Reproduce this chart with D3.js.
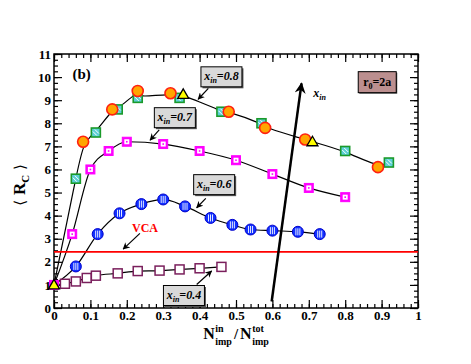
<!DOCTYPE html>
<html>
<head>
<meta charset="utf-8">
<script src="https://cdn.jsdelivr.net/npm/d3@7"></script>
<style>
  body { margin: 0; background: #fff; }
  svg { display: block; }
  text { font-family: "Liberation Serif", "Times New Roman", serif; }
</style>
</head>
<body>
<div id="chart"></div>
<script>
// ---- data ----
const origin = [0, 1.0];

// x_in = 0.8 (three runs)
const x80Circles = [[0.08, 7.2], [0.16, 8.6], [0.23, 9.4], [0.32, 9.3], [0.48, 8.5], [0.58, 7.8], [0.69, 7.3], [0.89, 6.1]];
const x80Squares = [[0.06, 5.6], [0.115, 7.6], [0.175, 8.6], [0.23, 9.1], [0.345, 9.1], [0.46, 8.5], [0.57, 8.0], [0.80, 6.8], [0.92, 6.3]];
const x80Triangles = [[0, 1.0], [0.355, 9.25], [0.71, 7.2]];

// x_in = 0.7
const x70 = [[0, 1.0], [0.05, 3.2], [0.10, 6.0], [0.15, 6.8], [0.20, 7.2], [0.30, 7.1], [0.40, 6.8], [0.50, 6.4], [0.60, 5.8], [0.70, 5.2], [0.80, 4.8]];

// x_in = 0.6
const x60 = [[0.06, 1.8], [0.12, 3.2], [0.18, 4.1], [0.24, 4.5], [0.30, 4.7], [0.36, 4.4], [0.43, 3.9], [0.49, 3.6], [0.54, 3.4], [0.60, 3.35], [0.67, 3.3], [0.73, 3.2]];

// x_in = 0.4
const x40 = [[0.03, 1.05], [0.06, 1.15], [0.09, 1.3], [0.115, 1.4], [0.175, 1.5], [0.23, 1.6], [0.29, 1.62], [0.345, 1.67], [0.40, 1.72], [0.46, 1.78]];

// VCA value
const vcaValue = 2.43;

const xTicks = [0, 0.1, 0.2, 0.3, 0.4, 0.5, 0.6, 0.7, 0.8, 0.9, 1];
const xTickLabels = ["0", "0.1", "0.2", "0.3", "0.4", "0.5", "0.6", "0.7", "0.8", "0.9", "1"];
const yTicks = [0, 1, 2, 3, 4, 5, 6, 7, 8, 9, 10, 11];

// ---- layout ----
const width = 471, height = 364;
const plotL = 54, plotR = 418, plotT = 54, plotB = 308;

const svg = d3.select("#chart").append("svg")
    .attr("width", width)
    .attr("height", height);

const x = d3.scaleLinear().domain([0, 1]).range([plotL, plotR]);
const y = d3.scaleLinear().domain([0, 11]).range([plotB, plotT]);

// arrow heads
const defs = svg.append("defs");
defs.append("marker")
    .attr("id", "head")
    .attr("viewBox", "0 0 10 10")
    .attr("refX", 9).attr("refY", 5)
    .attr("markerWidth", 7).attr("markerHeight", 7)
    .attr("markerUnits", "userSpaceOnUse")
    .attr("orient", "auto")
    .append("path").attr("d", "M0,0 L10,5 L0,10 L3,5 Z").attr("fill", "black");
defs.append("marker")
    .attr("id", "bighead")
    .attr("viewBox", "0 0 10 10")
    .attr("refX", 9).attr("refY", 5)
    .attr("markerWidth", 12).attr("markerHeight", 11)
    .attr("markerUnits", "userSpaceOnUse")
    .attr("orient", "auto")
    .append("path").attr("d", "M0,0 L10,5 L0,10 L3,5 Z").attr("fill", "black");

// ---- axes (inward ticks on all sides) ----
const xMinor = d3.range(0, 1.0001, 0.02);
const yMinor = d3.range(0, 11.0001, 0.25);

svg.append("g")
    .attr("transform", `translate(0,${plotB})`)
    .call(d3.axisBottom(x).tickValues(xMinor).tickSize(-4).tickFormat(""))
    .call(g => g.select(".domain").remove());
svg.append("g")
    .attr("class", "x-axis")
    .attr("transform", `translate(0,${plotB})`)
    .call(d3.axisBottom(x).tickValues(xTicks).tickSize(-8).tickPadding(3)
        .tickFormat((d, i) => xTickLabels[i]))
    .call(g => g.select(".domain").remove());
svg.append("g")
    .attr("transform", `translate(0,${plotT})`)
    .call(d3.axisTop(x).tickValues(xMinor).tickSize(-4).tickFormat(""))
    .call(g => g.select(".domain").remove());
svg.append("g")
    .attr("transform", `translate(0,${plotT})`)
    .call(d3.axisTop(x).tickValues(xTicks).tickSize(-8).tickFormat(""))
    .call(g => g.select(".domain").remove());

svg.append("g")
    .attr("transform", `translate(${plotL},0)`)
    .call(d3.axisLeft(y).tickValues(yMinor).tickSize(-4).tickFormat(""))
    .call(g => g.select(".domain").remove());
svg.append("g")
    .attr("class", "y-axis")
    .attr("transform", `translate(${plotL},0)`)
    .call(d3.axisLeft(y).tickValues(yTicks).tickSize(-8).tickPadding(3))
    .call(g => g.select(".domain").remove());
svg.append("g")
    .attr("transform", `translate(${plotR},0)`)
    .call(d3.axisRight(y).tickValues(yMinor).tickSize(-4).tickFormat(""))
    .call(g => g.select(".domain").remove());
svg.append("g")
    .attr("transform", `translate(${plotR},0)`)
    .call(d3.axisRight(y).tickValues(yTicks).tickSize(-8).tickFormat(""))
    .call(g => g.select(".domain").remove());

svg.selectAll(".tick line").attr("stroke", "black").attr("stroke-width", 1.2);
svg.selectAll(".x-axis text, .y-axis text")
    .attr("font-family", "Liberation Serif, serif")
    .attr("font-size", 13)
    .attr("font-weight", "bold")
    .attr("fill", "black");

// frame
svg.append("rect")
    .attr("x", plotL).attr("y", plotT)
    .attr("width", plotR - plotL).attr("height", plotB - plotT)
    .attr("fill", "none").attr("stroke", "black").attr("stroke-width", 1.5);

// ---- curves ----
const line = d3.line().x(d => x(d[0])).y(d => y(d[1]));

const x80All = [...x80Triangles, ...x80Circles, ...x80Squares].sort((a, b) => a[0] - b[0]);

svg.append("path").datum(x80All)
    .attr("d", line.curve(d3.curveBasis)).attr("fill", "none").attr("stroke", "black").attr("stroke-width", 1.2);
svg.append("path").datum(x70)
    .attr("d", line.curve(d3.curveMonotoneX)).attr("fill", "none").attr("stroke", "black").attr("stroke-width", 1.2);
svg.append("path").datum([origin, ...x60])
    .attr("d", line.curve(d3.curveMonotoneX)).attr("fill", "none").attr("stroke", "black").attr("stroke-width", 1.2);
svg.append("path").datum([origin, ...x40])
    .attr("d", line.curve(d3.curveMonotoneX)).attr("fill", "none").attr("stroke", "black").attr("stroke-width", 1.2);

// VCA line
svg.append("line")
    .attr("x1", x(0)).attr("x2", x(1))
    .attr("y1", y(vcaValue)).attr("y2", y(vcaValue))
    .attr("stroke", "red").attr("stroke-width", 1.8);

// big x_in arrow
svg.append("line")
    .attr("x1", x(0.598)).attr("y1", y(0.28))
    .attr("x2", x(0.68)).attr("y2", y(9.73))
    .attr("stroke", "black").attr("stroke-width", 2.5)
    .attr("marker-end", "url(#bighead)");

// ---- markers ----
function pointGroups(data) {
    return svg.append("g").selectAll("g").data(data).enter().append("g")
        .attr("transform", d => `translate(${x(d[0])},${y(d[1])})`);
}

// x_in = 0.4: open squares
pointGroups(x40).append("rect")
    .attr("x", -4.5).attr("y", -4.5).attr("width", 9).attr("height", 9)
    .attr("fill", "white").attr("stroke", "#7a1f5c").attr("stroke-width", 1.5);

// x_in = 0.6: striped blue circles
let g60 = pointGroups(x60);
g60.append("circle").attr("r", 5.5).attr("fill", "#1030ff").attr("stroke", "#0000cc").attr("stroke-width", 1);
[-2, 0, 2].forEach(dx => {
    g60.append("line").attr("x1", dx).attr("x2", dx).attr("y1", -3.5).attr("y2", 3.5)
        .attr("stroke", "white").attr("stroke-width", 0.9);
});

// x_in = 0.7: magenta squares
let g70 = pointGroups(x70);
g70.append("rect").attr("x", -4.5).attr("y", -4.5).attr("width", 9).attr("height", 9)
    .attr("fill", "#ff00ff").attr("stroke", "#ff00ff").attr("stroke-width", 1);
g70.append("rect").attr("x", -2.5).attr("y", -2.5).attr("width", 5).attr("height", 5).attr("fill", "white");
g70.append("rect").attr("x", -0.8).attr("y", -0.8).attr("width", 1.6).attr("height", 1.6).attr("fill", "#ff00ff");

// x_in = 0.8: hatched green squares
let g80s = pointGroups(x80Squares);
g80s.append("rect").attr("x", -4.5).attr("y", -4.5).attr("width", 9).attr("height", 9)
    .attr("fill", "#5ccfd6").attr("stroke", "#1a9a2a").attr("stroke-width", 1.6);
g80s.append("line").attr("x1", -3).attr("y1", -1).attr("x2", 1).attr("y2", 3)
    .attr("stroke", "white").attr("stroke-width", 1);
g80s.append("line").attr("x1", -1).attr("y1", -3).attr("x2", 3).attr("y2", 1)
    .attr("stroke", "white").attr("stroke-width", 1);

// x_in = 0.8: orange circles
pointGroups(x80Circles).append("circle")
    .attr("r", 5.5).attr("fill", "#ffa500").attr("stroke", "#ff2010").attr("stroke-width", 1.6);

// x_in = 0.8: yellow triangles
pointGroups(x80Triangles).append("path")
    .attr("d", "M0,-5.5 L5.5,4 L-5.5,4 Z")
    .attr("fill", "#ffff00").attr("stroke", "black").attr("stroke-width", 1.3);

// ---- annotations ----
function arrow(x1, y1, x2, y2) {
    svg.append("line")
        .attr("x1", x(x1)).attr("y1", y(y1)).attr("x2", x(x2)).attr("y2", y(y2))
        .attr("stroke", "black").attr("stroke-width", 1.2)
        .attr("marker-end", "url(#head)");
}

function xinLabel(cx, cy, val) {
    let g = svg.append("g").attr("transform", `translate(${x(cx)},${y(cy)})`);
    g.append("rect").attr("x", -19).attr("y", -9).attr("width", 41).attr("height", 20).attr("fill", "#555");
    g.append("rect").attr("x", -20.5).attr("y", -10.5).attr("width", 41).attr("height", 20)
        .attr("fill", "#d9d9d9").attr("stroke", "black").attr("stroke-width", 1);
    let t = g.append("text").attr("text-anchor", "middle").attr("y", 3)
        .attr("font-size", 12).attr("font-weight", "bold").attr("font-style", "italic");
    t.append("tspan").text("x");
    t.append("tspan").attr("dy", 3).attr("font-size", 8).text("in");
    t.append("tspan").attr("dy", -3).text("=" + val);
}

xinLabel(0.46, 9.99, "0.8");
arrow(0.424, 9.51, 0.396, 9.04);
xinLabel(0.332, 8.22, "0.7");
arrow(0.289, 7.71, 0.264, 7.27);
xinLabel(0.44, 5.32, "0.6");
arrow(0.417, 4.75, 0.392, 4.34);
xinLabel(0.357, 0.52, "0.4");
arrow(0.392, 1.02, 0.433, 1.6);

svg.append("text")
    .attr("x", x(0.25)).attr("y", y(3.48) + 4)
    .attr("text-anchor", "middle")
    .attr("font-size", 12).attr("font-weight", "bold").attr("fill", "red")
    .text("VCA");
arrow(0.236, 3.23, 0.19, 2.55);

svg.append("text")
    .attr("x", x(0.076)).attr("y", y(10.13) + 5)
    .attr("text-anchor", "middle")
    .attr("font-size", 15).attr("font-weight", "bold")
    .text("(b)");

// x_in label next to big arrow
let tx = svg.append("text")
    .attr("x", x(0.712)).attr("y", y(9.22) + 2)
    .attr("font-size", 12).attr("font-style", "italic").attr("font-weight", "bold");
tx.append("tspan").text("x");
tx.append("tspan").attr("dy", 3).attr("font-size", 8).text("in");

// r0 = 2a box
let rg = svg.append("g").attr("transform", `translate(${x(0.888)},${y(9.78)})`);
rg.append("rect").attr("x", -18).attr("y", -9.5).attr("width", 38).attr("height", 21).attr("fill", "#444");
rg.append("rect").attr("x", -19).attr("y", -10.5).attr("width", 38).attr("height", 21)
    .attr("fill", "#bc8f8f").attr("stroke", "black").attr("stroke-width", 1);
let rt = rg.append("text").attr("text-anchor", "middle").attr("y", 4)
    .attr("font-size", 12).attr("font-weight", "bold");
rt.append("tspan").text("r");
rt.append("tspan").attr("dy", 3).attr("font-size", 8).text("0");
rt.append("tspan").attr("dy", -3).text("=2a");

// ---- axis titles ----
let yt = svg.append("text")
    .attr("transform", "translate(25,185) rotate(-90)")
    .attr("text-anchor", "middle")
    .attr("font-size", 17);
yt.append("tspan").attr("font-family", "DejaVu Serif, serif").attr("font-size", 15).text("\u27E8 ");
yt.append("tspan").attr("font-weight", "bold").text("R");
yt.append("tspan").attr("font-weight", "bold").attr("font-size", 11).attr("dy", 4).text("C");
yt.append("tspan").attr("font-family", "DejaVu Serif, serif").attr("font-size", 15).attr("dy", -4).text(" \u27E9");

// x title: N^in_imp / N^tot_imp, built piece by piece
let xt = svg.append("g").attr("font-weight", "bold");
let base = 339, cur = 0;
function piece(txt, size, dy) {
    let t = xt.append("text").attr("x", cur).attr("y", base + dy).attr("font-size", size).text(txt);
    return t.node().getComputedTextLength();
}
let w;
w = piece("N", 16, 0); cur += w + 0.5;
let a = piece("in", 10, -7), b = piece("imp", 10, 6);
cur += Math.max(a, b) + 2;
w = piece("/", 15, 0); cur += w + 2;
w = piece("N", 16, 0); cur += w + 0.5;
a = piece("tot", 10, -7); b = piece("imp", 10, 6);
cur += Math.max(a, b);
xt.attr("transform", `translate(${236 - cur / 2},0)`);
</script>
</body>
</html>
